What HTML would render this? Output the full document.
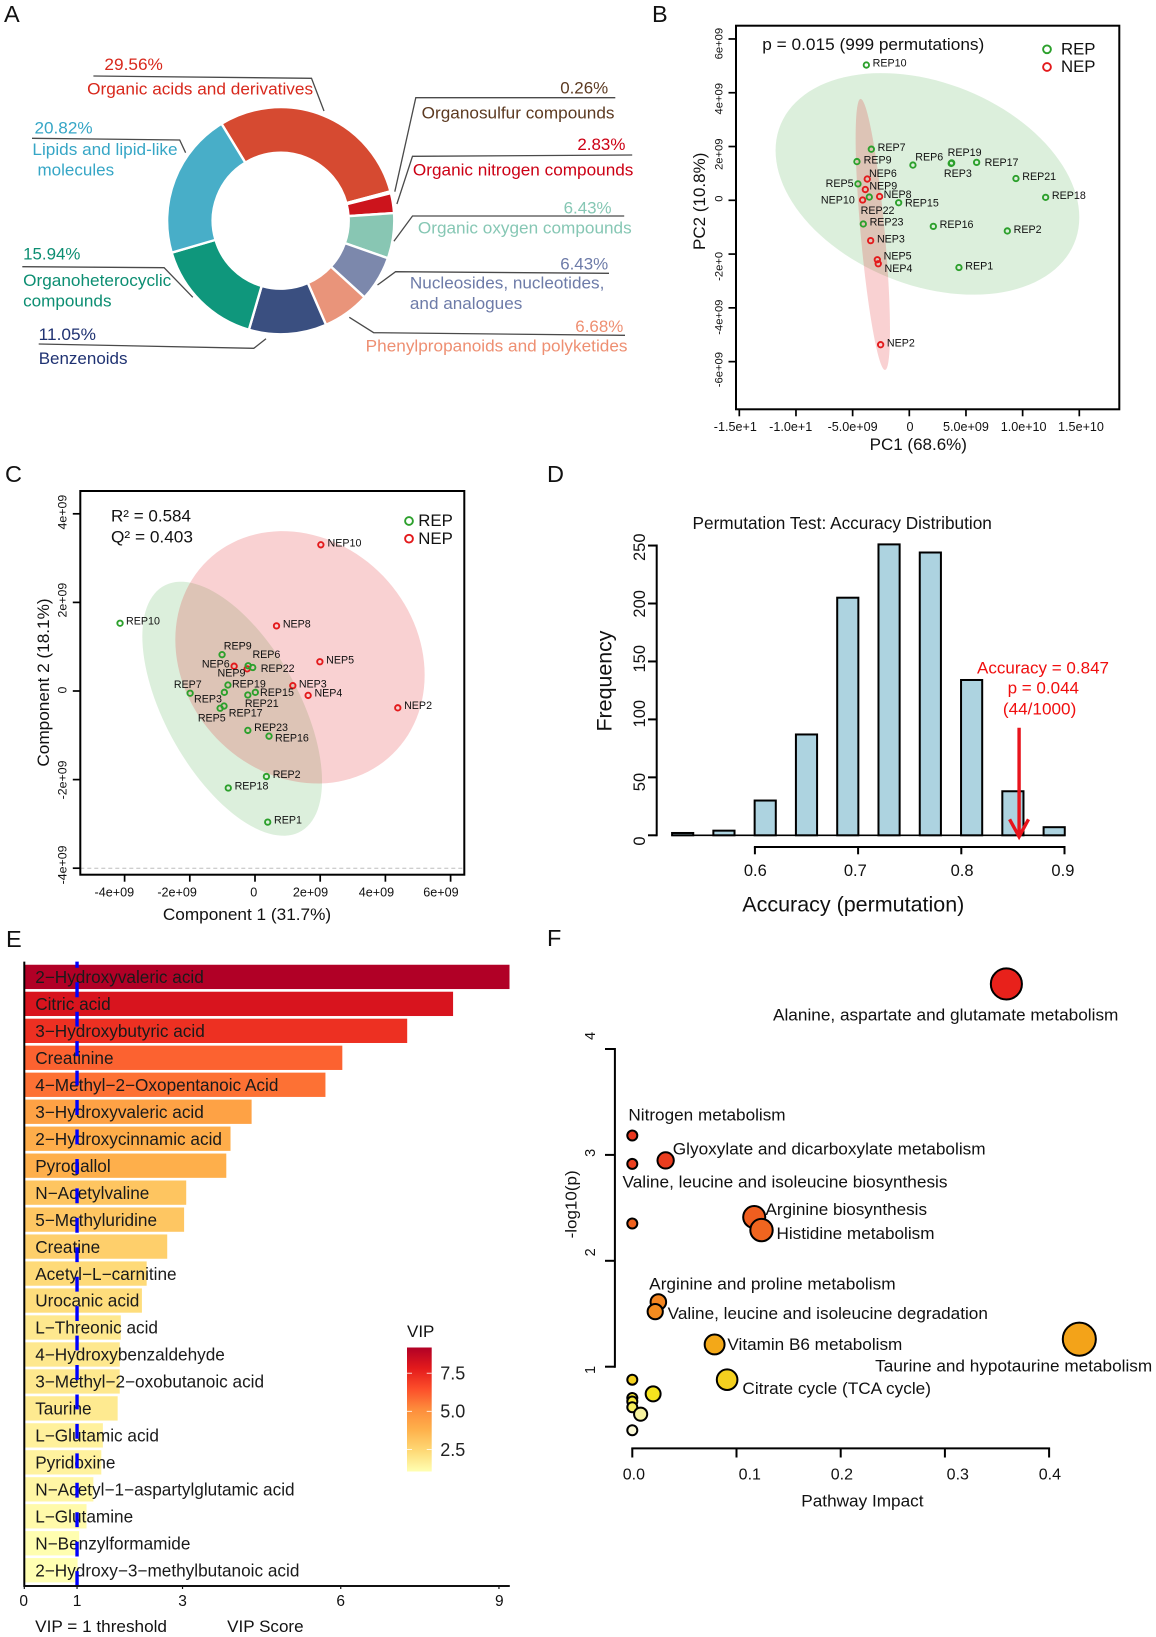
<!DOCTYPE html>
<html lang="en">
<head>
<meta charset="utf-8">
<title>Metabolomics multi-panel figure</title>
<style>
html,body{margin:0;padding:0;background:#fff;}
svg{display:block;font-family:"Liberation Sans",Arial,sans-serif;}
</style>
</head>
<body>
<svg id="fig" xmlns="http://www.w3.org/2000/svg" width="1156" height="1637" viewBox="0 0 1156 1637">
<defs>
<linearGradient id="vipGrad" x1="0" y1="0" x2="0" y2="1">
<stop offset="0" stop-color="#B10026"/><stop offset="0.167" stop-color="#E31A1C"/><stop offset="0.333" stop-color="#FC4E2A"/><stop offset="0.5" stop-color="#FD8D3C"/><stop offset="0.667" stop-color="#FEB24C"/><stop offset="0.833" stop-color="#FED976"/><stop offset="1" stop-color="#FFFFB2"/>
</linearGradient>
</defs>
<rect x="0" y="0" width="1156" height="1637" fill="#fff"/>

<g font-size="23.5" fill="#111">
<text x="4" y="22">A</text>
<text x="652" y="22">B</text>
<text x="5" y="482">C</text>
<text x="547" y="482">D</text>
<text x="6" y="947">E</text>
<text x="547" y="946">F</text>
</g>

<g id="panelA">
<g id="donut"></g>
<g fill="none" stroke="#4a4a4a" stroke-width="1.3">
<polyline points="93.4,76 311.5,78.3 324,111"/>
<polyline points="615.3,97.7 415.8,97.7 394.8,191.7"/>
<polyline points="632.2,155 412.5,156.3 396.9,204"/>
<polyline points="624.2,216 412.5,216 393.9,241.3"/>
<polyline points="609,273.3 395.6,271.7 377.5,285"/>
<polyline points="625,335.3 373.7,332.7 349.3,317.3"/>
<polyline points="38.7,344 253.8,348.3 266,338.7"/>
<polyline points="22.3,266.7 164.1,267.7 192.8,297.3"/>
<polyline points="32,138.3 179.7,140 185.6,152.7"/>
</g>
<g font-size="17">
<text x="104.4" y="70" fill="#D8281C" textLength="58.5" lengthAdjust="spacingAndGlyphs">29.56%</text>
<text x="87.1" y="94.3" fill="#D8281C" textLength="226" lengthAdjust="spacingAndGlyphs">Organic acids and derivatives</text>
<text x="560.2" y="93.3" fill="#5C3A21" textLength="48" lengthAdjust="spacingAndGlyphs">0.26%</text>
<text x="421.7" y="118.3" fill="#5C3A21" textLength="192.8" lengthAdjust="spacingAndGlyphs">Organosulfur compounds</text>
<text x="577.4" y="150" fill="#CC0014" textLength="48" lengthAdjust="spacingAndGlyphs">2.83%</text>
<text x="412.9" y="175.3" fill="#CC0014" textLength="220.5" lengthAdjust="spacingAndGlyphs">Organic nitrogen compounds</text>
<text x="563.6" y="213.3" fill="#86C7B4" textLength="48" lengthAdjust="spacingAndGlyphs">6.43%</text>
<text x="417.9" y="233.3" fill="#86C7B4" textLength="213.8" lengthAdjust="spacingAndGlyphs">Organic oxygen compounds</text>
<text x="560.2" y="269.3" fill="#6D7BA8" textLength="48" lengthAdjust="spacingAndGlyphs">6.43%</text>
<text x="409.9" y="288.3" fill="#6D7BA8" textLength="194.5" lengthAdjust="spacingAndGlyphs">Nucleosides, nucleotides,</text>
<text x="409.9" y="309" fill="#6D7BA8" textLength="112.4" lengthAdjust="spacingAndGlyphs">and analogues</text>
<text x="575.3" y="332" fill="#EE8F72" textLength="48" lengthAdjust="spacingAndGlyphs">6.68%</text>
<text x="365.7" y="351.7" fill="#EE8F72" textLength="261.8" lengthAdjust="spacingAndGlyphs">Phenylpropanoids and polyketides</text>
<text x="38.7" y="340" fill="#1F3272" textLength="57.3" lengthAdjust="spacingAndGlyphs">11.05%</text>
<text x="38.7" y="364" fill="#1F3272" textLength="88.8" lengthAdjust="spacingAndGlyphs">Benzenoids</text>
<text x="23.1" y="259.3" fill="#0C8E72" textLength="57.3" lengthAdjust="spacingAndGlyphs">15.94%</text>
<text x="23.1" y="286" fill="#0C8E72" textLength="148.2" lengthAdjust="spacingAndGlyphs">Organoheterocyclic</text>
<text x="23.1" y="306.7" fill="#0C8E72" textLength="88.4" lengthAdjust="spacingAndGlyphs">compounds</text>
<text x="34.5" y="133.3" fill="#36A6C6" textLength="58.1" lengthAdjust="spacingAndGlyphs">20.82%</text>
<text x="32.4" y="155" fill="#36A6C6" textLength="145.2" lengthAdjust="spacingAndGlyphs">Lipids and lipid-like</text>
<text x="37.5" y="175.3" fill="#36A6C6" textLength="76.6" lengthAdjust="spacingAndGlyphs">molecules</text>
</g>
</g>

<g id="panelB">
<g id="bPlot"></g>
<rect x="736" y="25.7" width="383.3" height="383.6" fill="none" stroke="#000" stroke-width="2"/>
<g id="bAxes"></g>
<text x="762.3" y="50" font-size="16.4" fill="#111" textLength="222" lengthAdjust="spacingAndGlyphs">p = 0.015 (999 permutations)</text>
<g>
<circle cx="1047" cy="49.3" r="3.9" fill="none" stroke="#2CA02C" stroke-width="1.9"/>
<circle cx="1047" cy="67" r="3.9" fill="none" stroke="#E31A1C" stroke-width="1.9"/>
<text x="1061" y="54.3" font-size="16.8" fill="#111">REP</text>
<text x="1061" y="72" font-size="16.8" fill="#111">NEP</text>
</g>
<text x="918.3" y="450" font-size="17" text-anchor="middle" fill="#111">PC1 (68.6%)</text>
<text transform="translate(705,201.3) rotate(-90)" font-size="17" text-anchor="middle" fill="#111">PC2 (10.8%)</text>
</g>

<g id="panelC">
<g id="cPlot"></g>
<line x1="80.3" y1="868.2" x2="464.3" y2="868.2" stroke="#bdbdbd" stroke-width="1" stroke-dasharray="4 3"/>
<rect x="80.3" y="491" width="384" height="383.7" fill="none" stroke="#000" stroke-width="2"/>
<g id="cAxes"></g>
<text x="111" y="521.7" font-size="16.4" fill="#111" textLength="80" lengthAdjust="spacingAndGlyphs">R² = 0.584</text>
<text x="111" y="542.3" font-size="16.4" fill="#111" textLength="82" lengthAdjust="spacingAndGlyphs">Q² = 0.403</text>
<g>
<circle cx="409" cy="521" r="3.9" fill="none" stroke="#2CA02C" stroke-width="1.9"/>
<circle cx="409" cy="538.7" r="3.9" fill="none" stroke="#E31A1C" stroke-width="1.9"/>
<text x="418.3" y="526" font-size="16.8" fill="#111">REP</text>
<text x="418.3" y="544" font-size="16.8" fill="#111">NEP</text>
</g>
<text x="247" y="920" font-size="16.8" text-anchor="middle" fill="#111" textLength="168.3" lengthAdjust="spacingAndGlyphs">Component 1 (31.7%)</text>
<text transform="translate(49,682.5) rotate(-90)" font-size="16.8" text-anchor="middle" fill="#111" textLength="168.3" lengthAdjust="spacingAndGlyphs">Component 2 (18.1%)</text>
</g>

<g id="panelD">
<text x="692.5" y="529" font-size="17.5" fill="#111" textLength="299.4" lengthAdjust="spacingAndGlyphs">Permutation Test: Accuracy Distribution</text>
<g id="dPlot"></g>
<g id="dAxes"></g>
<text transform="translate(611.5,681) rotate(-90)" font-size="21" text-anchor="middle" fill="#111" textLength="101" lengthAdjust="spacingAndGlyphs">Frequency</text>
<text x="853.3" y="911.7" font-size="21" text-anchor="middle" fill="#111" textLength="222" lengthAdjust="spacingAndGlyphs">Accuracy (permutation)</text>
<g font-size="17" fill="#F00E0E" text-anchor="middle">
<text x="1043" y="673.3" textLength="132" lengthAdjust="spacingAndGlyphs">Accuracy = 0.847</text>
<text x="1043.3" y="693.3" textLength="71.4" lengthAdjust="spacingAndGlyphs">p = 0.044</text>
<text x="1039.6" y="714.3" textLength="73.4" lengthAdjust="spacingAndGlyphs">(44/1000)</text>
</g>
</g>

<g id="panelE">
<g id="ePlot"></g>
<g id="eAxes"></g>
<text x="35.2" y="1632" font-size="17" fill="#111" textLength="131.8" lengthAdjust="spacingAndGlyphs">VIP = 1 threshold</text>
<text x="227.2" y="1632" font-size="17" fill="#111" textLength="76.4" lengthAdjust="spacingAndGlyphs">VIP Score</text>
<g>
<text x="407" y="1337" font-size="17" fill="#111">VIP</text>
<rect x="407" y="1347.5" width="24.7" height="124" fill="url(#vipGrad)"/>
<g id="eLegend"></g>
</g>
</g>

<g id="panelF">
<g id="fPlot"></g>
<g id="fAxes"></g>
<g font-size="16.3" fill="#111">
<text x="773" y="1020.7" textLength="345.4" lengthAdjust="spacingAndGlyphs">Alanine, aspartate and glutamate metabolism</text>
<text x="628.4" y="1120.6" textLength="157.2" lengthAdjust="spacingAndGlyphs">Nitrogen metabolism</text>
<text x="672.8" y="1154.6" textLength="312.8" lengthAdjust="spacingAndGlyphs">Glyoxylate and dicarboxylate metabolism</text>
<text x="622.5" y="1187.6" textLength="325" lengthAdjust="spacingAndGlyphs">Valine, leucine and isoleucine biosynthesis</text>
<text x="765.5" y="1215.1" textLength="161.5" lengthAdjust="spacingAndGlyphs">Arginine biosynthesis</text>
<text x="776.5" y="1239.2" textLength="158" lengthAdjust="spacingAndGlyphs">Histidine metabolism</text>
<text x="649.2" y="1289.7" textLength="246.4" lengthAdjust="spacingAndGlyphs">Arginine and proline metabolism</text>
<text x="667.7" y="1318.8" textLength="320.2" lengthAdjust="spacingAndGlyphs">Valine, leucine and isoleucine degradation</text>
<text x="727.4" y="1349.8" textLength="174.9" lengthAdjust="spacingAndGlyphs">Vitamin B6 metabolism</text>
<text x="875.2" y="1371.6" textLength="277" lengthAdjust="spacingAndGlyphs">Taurine and hypotaurine metabolism</text>
<text x="742.4" y="1394.2" textLength="188.6" lengthAdjust="spacingAndGlyphs">Citrate cycle (TCA cycle)</text>
</g>
<text x="801.3" y="1506.7" font-size="16.3" fill="#111" textLength="122.2" lengthAdjust="spacingAndGlyphs">Pathway Impact</text>
<text transform="translate(576.5,1204.4) rotate(-90)" font-size="16" text-anchor="middle" fill="#111" textLength="68" lengthAdjust="spacingAndGlyphs">-log10(p)</text>
</g>
</svg>

<script>
/* ---------- Panel A data ---------- */
var donutCategories = ['Organic acids and derivatives','Organosulfur compounds','Organic nitrogen compounds','Organic oxygen compounds','Nucleosides, nucleotides, and analogues','Phenylpropanoids and polyketides','Benzenoids','Organoheterocyclic compounds','Lipids and lipid-like molecules'];
var donutValues = [29.56,0.26,2.83,6.43,6.43,6.68,11.05,15.94,20.82];
var donutColors = ['#D64A31','#5C3A21','#CC141C','#88C6B3','#7C88AC','#E9947A','#3A4F80','#0F977C','#48AEC8'];

/* ---------- Panel B data (units of 1e9) ---------- */
var bRepNames = ['REP10','REP7','REP9','REP6','REP19','REP3','REP17','REP21','REP18','REP5','REP22','REP15','REP23','REP16','REP2','REP1'];
var bRepX = [-3.79,-3.35,-4.62,0.32,3.74,3.70,5.94,9.41,12.03,-4.53,-3.53,-0.94,-4.06,2.12,8.65,4.38];
var bRepY = [5.03,1.90,1.44,1.31,1.39,1.37,1.41,0.81,0.11,0.61,0.12,-0.09,-0.88,-0.97,-1.14,-2.50];
var bNepNames = ['NEP6','NEP9','NEP8','NEP10','NEP3','NEP5','NEP4','NEP2'];
var bNepX = [-3.71,-3.88,-2.62,-4.12,-3.41,-2.82,-2.74,-2.53];
var bNepY = [0.79,0.40,0.14,0.01,-1.50,-2.21,-2.36,-5.37];
var bXTicks = [-15,-10,-5,0,5,10,15];
var bXTickLabels = ['-1.5e+1','-1.0e+1','-5.0e+09','0','5.0e+09','1.0e+10','1.5e+10'];
var bYTicks = [6,4,2,0,-2,-4,-6];
var bYTickLabels = ['6e+09','4e+09','2e+09','0','-2e+0','-4e+09','-6e+09'];
var bRepEllipse = [1.60,0.61,13.40,4.12,-0.302];
var bNepEllipse = [-3.22,-1.27,1.515,5.04,-0.709];

/* ---------- Panel C data (units of 1e9) ---------- */
var cRepNames = ['REP10','REP9','REP6','REP22','REP19','REP3','REP7','REP15','REP21','REP17','REP5','REP23','REP16','REP2','REP18','REP1'];
var cRepX = [-4.14,-1.01,-0.21,-0.07,-0.83,-0.94,-1.99,0.01,-0.22,-0.95,-1.07,-0.22,0.43,0.35,-0.82,0.39];
var cRepY = [1.53,0.82,0.57,0.53,0.135,-0.03,-0.05,-0.03,-0.09,-0.34,-0.39,-0.89,-1.02,-1.93,-2.19,-2.96];
var cNepNames = ['NEP10','NEP8','NEP5','NEP6','NEP9','NEP3','NEP4','NEP2'];
var cNepX = [2.02,0.66,1.99,-0.64,-0.24,1.16,1.63,4.38];
var cNepY = [3.30,1.47,0.66,0.56,0.50,0.12,-0.10,-0.38];
var cXTicks = [-4,-2,0,2,4,6];
var cXTickLabels = ['-4e+09','-2e+09','0','2e+09','4e+09','6e+09'];
var cYTicks = [4,2,0,-2,-4];
var cYTickLabels = ['4e+09','2e+09','0','-2e+09','-4e+09'];
var cRepEllipse = [-0.70,-0.40,2.756,2.867,-0.57];
var cNepEllipse = [1.38,0.76,3.824,2.848,-0.14];

/* ---------- Panel D data ---------- */
var histBinCenters = [0.53,0.57,0.61,0.65,0.69,0.73,0.77,0.81,0.85,0.89];
var histCounts = [2,4,30,87,205,251,244,134,38,7];
var histXTicks = [0.6,0.7,0.8,0.9];
var histXTickLabels = ['0.6','0.7','0.8','0.9'];
var histYTicks = [0,50,100,150,200,250];
var histObserved = [0.856];

/* ---------- Panel E data ---------- */
var vipNames = ['2\u2212Hydroxyvaleric acid','Citric acid','3\u2212Hydroxybutyric acid','Creatinine','4\u2212Methyl\u22122\u2212Oxopentanoic Acid','3\u2212Hydroxyvaleric acid','2\u2212Hydroxycinnamic acid','Pyrogallol','N\u2212Acetylvaline','5\u2212Methyluridine','Creatine','Acetyl\u2212L\u2212carnitine','Urocanic acid','L\u2212Threonic acid','4\u2212Hydroxybenzaldehyde','3\u2212Methyl\u22122\u2212oxobutanoic acid','Taurine','L\u2212Glutamic acid','Pyridoxine','N\u2212Acetyl\u22121\u2212aspartylglutamic acid','L\u2212Glutamine','N\u2212Benzylformamide','2\u2212Hydroxy\u22123\u2212methylbutanoic acid'];
var vipValues = [9.20,8.13,7.26,6.03,5.71,4.31,3.91,3.83,3.07,3.03,2.71,2.32,2.23,1.83,1.81,1.81,1.77,1.49,1.46,1.31,1.18,1.04,1.01];
var vipTicks = [0,1,3,6,9];
var vipThreshold = [1];
var vipLegendTicks = [7.5,5.0,2.5];

/* ---------- Panel F data ---------- */
var pathwayImpact = [0.359,0,0,0.032,0,0.117,0.124,0.025,0.022,0.079,0.429,0.091,0,0.020,0,0,0,0.008,0];
var pathwayLogP = [4.614,3.183,2.915,2.948,2.352,2.413,2.29,1.611,1.52,1.21,1.26,0.877,0.877,0.743,0.704,0.671,0.617,0.552,0.40];
var fXTicks = [0,0.1,0.2,0.3,0.4];
var fXTickLabels = ['0.0','0.1','0.2','0.3','0.4'];
var fYTicks = [4,3,2,1];

/* ---------- Layout-only constants ---------- */
var bRepLabelDx = [6.3,6.3,6.7,2.3,-4,-7.3,8,6.3,6.3,-32.3,-8.7,6.3,6.3,6.3,6.3,6.3];
var bRepLabelDy = [1.7,1.7,1.7,-4.7,-6.7,13.7,3.7,1.7,1.7,3,16.7,4,1.7,1.7,2,2];
var bNepLabelDx = [1.7,4,4,-41.7,6.3,6.3,6.3,6.3];
var bNepLabelDy = [-2.3,0,1.7,3.3,2,0,8,1.7];
var cRepLabelDx = [6,1.7,4.3,8,4,-30.3,-16.3,4.7,-3,4.7,-22.3,6.3,6,6.3,6.3,6.3];
var cRepLabelDy = [1.3,-5,-7.7,4.3,2.7,10,-5.3,3.7,12,10.3,13,0.7,5.3,1.3,1.3,1.3];
var cNepLabelDx = [6.7,6.3,6.3,-32.3,-29.7,6,6.3,6.3];
var cNepLabelDy = [1.7,1.7,1.7,1.3,7.7,1.7,1.3,1.3];
var bXLabelShift = [-4,-5.3,0,0.7,0,1,1.7];
var bYLabelShift = [4.7,6,7.7,-1.7,12.3,9.3,8];
var cXLabelShift = [-10.3,-12.7,-1.3,-9.7,-9,-9.7];
var cYLabelShift = [-1.7,-2.3,-1,0.3,-3.3];
var dXLabelShift = [0.4,-2.8,0.8,-1.6];
var dYLabelShift = [5.7,4.7,-5.7,-2.7,0.3,1.7];
var eXLabelShift = [-0.6,0,0,0,0.4];
var fXLabelShift = [1.6,13.3,1.2,12.9,0.8];
var fYLabelShift = [-13,-2,-8.4,3.3];
var ylorrd = ['#FFFFB2','#FED976','#FEB24C','#FD8D3C','#FC4E2A','#E31A1C','#B10026'];
var heatY = [0.40,0.55,0.62,0.74,0.88,1.2,1.55,2.3,3.0,4.6];
var heatC = ['#FBF9D8','#F6F2A0','#F7EE5C','#F6E41E','#F3D01F','#F3A918','#F38820','#F0651F','#EA3A1F','#E8211B'];

var NS = 'http://www.w3.org/2000/svg';
function mk(tag, attrs, parent) {
  var el = document.createElementNS(NS, tag);
  for (var k in attrs) { el.setAttribute(k, attrs[k]); }
  parent.appendChild(el);
  return el;
}
function txt(parent, str, x, y, size, anchor, fill, rotate) {
  var a = {'font-size': size, 'text-anchor': anchor || 'start', fill: fill || '#111'};
  a.transform = 'translate(' + x + ',' + y + ')' + (rotate ? ' rotate(-90)' : '');
  var el = mk('text', a, parent);
  el.textContent = str;
  return el;
}
function hexRgb(h) { return [parseInt(h.substr(1,2),16), parseInt(h.substr(3,2),16), parseInt(h.substr(5,2),16)]; }
function mix(a, b, t) {
  var p = hexRgb(a), q = hexRgb(b);
  return 'rgb(' + Math.round(p[0]+(q[0]-p[0])*t) + ',' + Math.round(p[1]+(q[1]-p[1])*t) + ',' + Math.round(p[2]+(q[2]-p[2])*t) + ')';
}

/* ---------- Panel A ---------- */
(function () {
  var g = document.getElementById('donut');
  var cx = 280.7, cy = 220.7, R = 113.6, r = 68;
  var total = 0;
  donutValues.forEach(function (v) { total += v; });
  var a0 = -31.4 * Math.PI / 180;
  donutValues.forEach(function (v, i) {
    var a1 = a0 + v / total * 2 * Math.PI;
    var large = (a1 - a0) > Math.PI ? 1 : 0;
    var d = 'M' + (cx + R*Math.sin(a0)) + ' ' + (cy - R*Math.cos(a0)) +
      'A' + R + ' ' + R + ' 0 ' + large + ' 1 ' + (cx + R*Math.sin(a1)) + ' ' + (cy - R*Math.cos(a1)) +
      'L' + (cx + r*Math.sin(a1)) + ' ' + (cy - r*Math.cos(a1)) +
      'A' + r + ' ' + r + ' 0 ' + large + ' 0 ' + (cx + r*Math.sin(a0)) + ' ' + (cy - r*Math.cos(a0)) + 'Z';
    var el = mk('path', {d: d, fill: donutColors[i], stroke: '#fff', 'stroke-width': 2.4}, g);
    
    
    var t = mk('title', {}, el);
    t.textContent = donutCategories[i];
    
    
    a0 = a1;
  });
})();

/* ---------- Panels B, C ---------- */
function ellipse(g, e, xf, yf, fill, name) {
  var d = '';
  for (var i = 0; i <= 120; i++) {
    var t = i / 120 * 2 * Math.PI;
    var vx = e[0] + e[2] * Math.cos(t);
    var vy = e[1] + e[3] * (e[4] * Math.cos(t) + Math.sqrt(1 - e[4]*e[4]) * Math.sin(t));
    d += (i ? 'L' : 'M') + xf(vx).toFixed(2) + ' ' + yf(vy).toFixed(2);
  }
  var el = mk('path', {d: d + 'Z', fill: fill}, g);
  
  
}
function points(g, names, xs, ys, dxs, dys, xf, yf, color) {
  names.forEach(function (n, i) {
    var px = xf(xs[i]), py = yf(ys[i]);
    var c = mk('circle', {cx: px, cy: py, r: 2.7, fill: 'none', stroke: color, 'stroke-width': 1.9}, g);
    
    
    var t = txt(g, n, px + dxs[i], py + dys[i], 10.7, 'start', '#111');
    
    
  });
}
function frameAxes(g, xTicks, xLabels, xShift, yTicks, yLabels, yShift, xf, yf, cfg) {
  xTicks.forEach(function (v, i) {
    var l = mk('line', {x1: xf(v), x2: xf(v), y1: cfg.bottom, y2: cfg.bottom + 7, stroke: '#000', 'stroke-width': 1.7}, g);
    
    
    var t = txt(g, xLabels[i], xf(v) + xShift[i], cfg.bottom + 21.7, 12.6, 'middle');
    
    
  });
  yTicks.forEach(function (v, i) {
    var l = mk('line', {x1: cfg.left - 7.5, x2: cfg.left, y1: yf(v), y2: yf(v), stroke: '#000', 'stroke-width': 1.7}, g);
    
    
    var t = txt(g, yLabels[i], cfg.labelX, yf(v) + yShift[i], cfg.yFont, 'middle', '#111', true);
    
    
  });
}
var greenFill = 'rgba(80,175,80,0.2)', redFill = 'rgba(227,26,28,0.2)';
(function () {
  var xf = function (v) { return 909.3 + v * 11.333; };
  var yf = function (v) { return 200.3 - v * 26.89; };
  var g = document.getElementById('bPlot');
  ellipse(g, bRepEllipse, xf, yf, greenFill, 'rep-confidence-ellipse');
  ellipse(g, bNepEllipse, xf, yf, redFill, 'nep-confidence-ellipse');
  points(g, bRepNames, bRepX, bRepY, bRepLabelDx, bRepLabelDy, xf, yf, '#2CA02C');
  points(g, bNepNames, bNepX, bNepY, bNepLabelDx, bNepLabelDy, xf, yf, '#E31A1C');
  frameAxes(document.getElementById('bAxes'), bXTicks, bXTickLabels, bXLabelShift, bYTicks, bYTickLabels, bYLabelShift, xf, yf, {bottom: 409.3, left: 736, labelX: 722.7, yFont: 11.2});
})();
(function () {
  var xf = function (v) { return 255 + v * 32.6; };
  var yf = function (v) { return 691 - v * 44.3; };
  var g = document.getElementById('cPlot');
  ellipse(g, cRepEllipse, xf, yf, greenFill, 'rep-confidence-ellipse');
  ellipse(g, cNepEllipse, xf, yf, redFill, 'nep-confidence-ellipse');
  points(g, cNepNames, cNepX, cNepY, cNepLabelDx, cNepLabelDy, xf, yf, '#E31A1C');
  points(g, cRepNames, cRepX, cRepY, cRepLabelDx, cRepLabelDy, xf, yf, '#2CA02C');
  frameAxes(document.getElementById('cAxes'), cXTicks, cXTickLabels, cXLabelShift, cYTicks, cYTickLabels, cYLabelShift, xf, yf, {bottom: 874.7, left: 80.3, labelX: 66.7, yFont: 12.4});
})();

/* ---------- Panel D ---------- */
(function () {
  var xf = function (v) { return 754.9 + (v - 0.6) * 1032; };
  var yf = function (v) { return 835.3 - v * 1.159; };
  var g = document.getElementById('dPlot');
  var binW = 0.0205;
  histCounts.forEach(function (c, i) {
    var el = mk('rect', {x: xf(histBinCenters[i] - binW/2), y: yf(c), width: xf(binW) - xf(0), height: yf(0) - yf(c), fill: '#ADD3E0', stroke: '#000', 'stroke-width': 2}, g);
    
    
  });
  var base = mk('line', {x1: xf(histBinCenters[0] - binW/2), x2: xf(histBinCenters[9] + binW/2), y1: yf(0), y2: yf(0), stroke: '#000', 'stroke-width': 1.7}, g);
  
  
  var ax = xf(histObserved[0]);
  var arrow = mk('path', {d: 'M' + ax + ' 727.7V836M' + (ax - 9.5) + ' 819.3L' + ax + ' 836.7L' + (ax + 9.4) + ' 819.3', fill: 'none', stroke: '#E8141C', 'stroke-width': 3.4}, g);
  
  

  var a = document.getElementById('dAxes');
  var xl = mk('line', {x1: xf(histXTicks[0]) - 1, x2: xf(histXTicks[3]) + 1, y1: 847, y2: 847, stroke: '#000', 'stroke-width': 2}, a);
  
  
  histXTicks.forEach(function (v, i) {
    var l = mk('line', {x1: xf(v), x2: xf(v), y1: 847, y2: 854.3, stroke: '#000', 'stroke-width': 2}, a);
    
    
    var t = txt(a, histXTickLabels[i], xf(v) + dXLabelShift[i], 876, 16.5, 'middle');
    
    
  });
  var yl = mk('line', {x1: 656.7, x2: 656.7, y1: yf(250) - 1, y2: yf(0) + 1, stroke: '#000', 'stroke-width': 2}, a);
  
  
  histYTicks.forEach(function (v, i) {
    var l = mk('line', {x1: 648, x2: 656.7, y1: yf(v), y2: yf(v), stroke: '#000', 'stroke-width': 2}, a);
    
    
    var t = txt(a, String(v), 645, yf(v) + dYLabelShift[i], 16.5, 'middle', '#111', true);
    
    
  });
})();

/* ---------- Panel E ---------- */
(function () {
  var xf = function (v) { return 24.3 + v * 52.74; };
  var rowY = function (i) { return 976.9 + i * 26.97; };
  var color = function (v) {
    var t = Math.max(0, Math.min(1, (v - 1) / 8.2)) * 6;
    var k = Math.min(5, Math.floor(t));
    return mix(ylorrd[k], ylorrd[k+1], t - k);
  };
  var g = document.getElementById('ePlot');
  vipValues.forEach(function (v, i) {
    var el = mk('rect', {x: xf(0), y: rowY(i) - 12.15, width: xf(v) - xf(0), height: 24.3, fill: color(v)}, g);
    
    
  });
  vipNames.forEach(function (n, i) {
    var t = txt(g, n, 35.2, rowY(i) + 6.2, 17.2, 'start', '#1a1a1a');
    
    
  });
  var dash = mk('line', {x1: xf(vipThreshold[0]), x2: xf(vipThreshold[0]), y1: 1586, y2: 961.6, stroke: '#0000FF', 'stroke-width': 3.4, 'stroke-dasharray': '14.9 14.54'}, g);
  
  

  var a = document.getElementById('eAxes');
  var yl = mk('line', {x1: 24.3, x2: 24.3, y1: 961.6, y2: 1587, stroke: '#000', 'stroke-width': 2}, a);
  
  
  var xl = mk('line', {x1: 24.3, x2: 509.8, y1: 1586, y2: 1586, stroke: '#111', 'stroke-width': 2}, a);
  
  
  vipTicks.forEach(function (v, i) {
    var l = mk('line', {x1: xf(v), x2: xf(v), y1: 1586, y2: 1589, stroke: '#111', 'stroke-width': 1.2}, a);
    
    
    var t = txt(a, String(v), xf(v) + eXLabelShift[i], 1606, 15.5, 'middle');
    
    
  });
  var leg = document.getElementById('eLegend');
  var lf = function (v) { return 1373.2 + (7.5 - v) * 15.24; };
  vipLegendTicks.forEach(function (v) {
    var l1 = mk('line', {x1: 407, x2: 412, y1: lf(v), y2: lf(v), stroke: '#fff', 'stroke-width': 0.8}, leg);
    
    
    var l2 = mk('line', {x1: 426.7, x2: 431.7, y1: lf(v), y2: lf(v), stroke: '#fff', 'stroke-width': 0.8}, leg);
    
    
    var t = txt(leg, v.toFixed(1), 440.2, lf(v) + 6.4, 18, 'start', '#222');
    
    
  });
})();

/* ---------- Panel F ---------- */
(function () {
  var xf = function (v) { return 632.3 + v * 1042; };
  var yf = function (v) { return 1366.7 - (v - 1) * 105.9; };
  var rad = function (v) { return 5 + 17.6 * Math.sqrt(v); };
  var heat = function (v) {
    for (var k = 0; k < heatY.length - 1; k++) {
      if (v <= heatY[k+1]) { return mix(heatC[k], heatC[k+1], Math.max(0, (v - heatY[k]) / (heatY[k+1] - heatY[k]))); }
    }
    return heatC[heatC.length - 1];
  };
  var g = document.getElementById('fPlot');
  pathwayImpact.forEach(function (v, i) {
    var el = mk('circle', {cx: xf(v), cy: yf(pathwayLogP[i]), r: rad(v), fill: heat(pathwayLogP[i]), stroke: '#000', 'stroke-width': 2}, g);
    
    
  });
  var a = document.getElementById('fAxes');
  var xl = mk('line', {x1: xf(0) - 1, x2: xf(0.4) + 1, y1: 1448.4, y2: 1448.4, stroke: '#000', 'stroke-width': 2}, a);
  
  
  fXTicks.forEach(function (v, i) {
    var l = mk('line', {x1: xf(v), x2: xf(v), y1: 1448.4, y2: 1457.5, stroke: '#000', 'stroke-width': 2}, a);
    
    
    var t = txt(a, fXTickLabels[i], xf(v) + fXLabelShift[i], 1479.6, 16, 'middle');
    
    
  });
  var yl = mk('line', {x1: 614.9, x2: 614.9, y1: yf(4) - 1, y2: yf(1) + 1, stroke: '#000', 'stroke-width': 2}, a);
  
  
  fYTicks.forEach(function (v, i) {
    var l = mk('line', {x1: 605, x2: 614.9, y1: yf(v), y2: yf(v), stroke: '#000', 'stroke-width': 2}, a);
    
    
    var t = txt(a, String(v), 595, yf(v) + fYLabelShift[i], 14.5, 'middle', '#111', true);
    
    
  });
})();
</script>
</body>
</html>
